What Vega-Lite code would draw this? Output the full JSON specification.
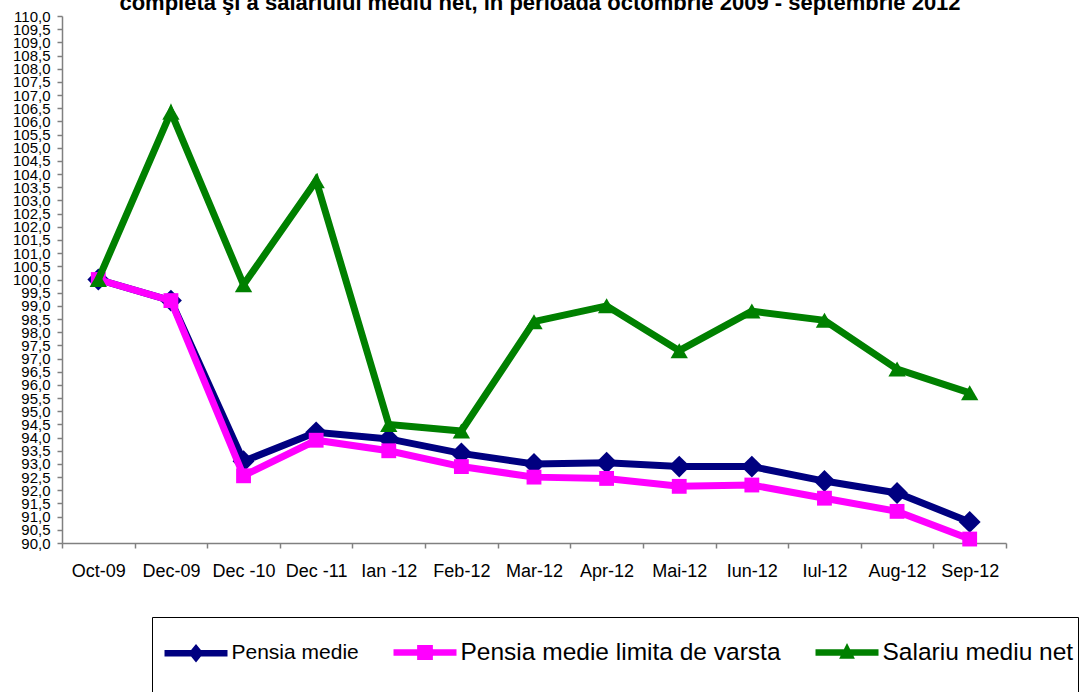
{
  "$schema": "https://vega.github.io/schema/vega-lite/v6.json",
  "width": 944,
  "height": 527,
  "autosize": {"type": "none"},
  "padding": {"left": 62, "top": 16, "right": 76, "bottom": 149},
  "background": "white",
  "config": {"view": {"stroke": null}, "font": "Liberation Sans"},
  "title": {
    "text": "completă şi a salariului mediu net, în perioada octombrie 2009 - septembrie 2012",
    "font": "Liberation Sans",
    "fontSize": 22,
    "fontWeight": "bold",
    "color": "black",
    "anchor": "middle",
    "offset": 2,
    "dy": 7.5,
    "dx": 6
  },
  "data": {
    "values": [
      {"d": "Oct-09", "s": "Pensia medie", "v": 100.0},
      {"d": "Dec-09", "s": "Pensia medie", "v": 99.2},
      {"d": "Dec -10", "s": "Pensia medie", "v": 93.1},
      {"d": "Dec -11", "s": "Pensia medie", "v": 94.2},
      {"d": "Ian -12", "s": "Pensia medie", "v": 93.95},
      {"d": "Feb-12", "s": "Pensia medie", "v": 93.4},
      {"d": "Mar-12", "s": "Pensia medie", "v": 93.0},
      {"d": "Apr-12", "s": "Pensia medie", "v": 93.05},
      {"d": "Mai-12", "s": "Pensia medie", "v": 92.9},
      {"d": "Iun-12", "s": "Pensia medie", "v": 92.9},
      {"d": "Iul-12", "s": "Pensia medie", "v": 92.35},
      {"d": "Aug-12", "s": "Pensia medie", "v": 91.9},
      {"d": "Sep-12", "s": "Pensia medie", "v": 90.8},
      {"d": "Oct-09", "s": "Pensia medie limita de varsta", "v": 100.0},
      {"d": "Dec-09", "s": "Pensia medie limita de varsta", "v": 99.2},
      {"d": "Dec -10", "s": "Pensia medie limita de varsta", "v": 92.55},
      {"d": "Dec -11", "s": "Pensia medie limita de varsta", "v": 93.9},
      {"d": "Ian -12", "s": "Pensia medie limita de varsta", "v": 93.5},
      {"d": "Feb-12", "s": "Pensia medie limita de varsta", "v": 92.9},
      {"d": "Mar-12", "s": "Pensia medie limita de varsta", "v": 92.5},
      {"d": "Apr-12", "s": "Pensia medie limita de varsta", "v": 92.45},
      {"d": "Mai-12", "s": "Pensia medie limita de varsta", "v": 92.15},
      {"d": "Iun-12", "s": "Pensia medie limita de varsta", "v": 92.2},
      {"d": "Iul-12", "s": "Pensia medie limita de varsta", "v": 91.7},
      {"d": "Aug-12", "s": "Pensia medie limita de varsta", "v": 91.2},
      {"d": "Sep-12", "s": "Pensia medie limita de varsta", "v": 90.15},
      {"d": "Oct-09", "s": "Salariu mediu net", "v": 100.0},
      {"d": "Dec-09", "s": "Salariu mediu net", "v": 106.35},
      {"d": "Dec -10", "s": "Salariu mediu net", "v": 99.8},
      {"d": "Dec -11", "s": "Salariu mediu net", "v": 103.75},
      {"d": "Ian -12", "s": "Salariu mediu net", "v": 94.5},
      {"d": "Feb-12", "s": "Salariu mediu net", "v": 94.25},
      {"d": "Mar-12", "s": "Salariu mediu net", "v": 98.4},
      {"d": "Apr-12", "s": "Salariu mediu net", "v": 99.0},
      {"d": "Mai-12", "s": "Salariu mediu net", "v": 97.3},
      {"d": "Iun-12", "s": "Salariu mediu net", "v": 98.8},
      {"d": "Iul-12", "s": "Salariu mediu net", "v": 98.45},
      {"d": "Aug-12", "s": "Salariu mediu net", "v": 96.6},
      {"d": "Sep-12", "s": "Salariu mediu net", "v": 95.7}
    ]
  },
  "encoding": {
    "x": {
      "field": "d",
      "type": "nominal",
      "sort": null,
      "title": null,
      "scale": {"type": "band", "paddingInner": 0, "paddingOuter": 0},
      "axis": {
        "labelAngle": 0,
        "labelFont": "Liberation Sans",
        "labelFontSize": 18,
        "labelColor": "black",
        "labelPadding": 14,
        "tickBand": "extent",
        "tickSize": 5,
        "tickColor": "#808080",
        "domainColor": "#808080",
        "domainWidth": 1.5,
        "tickWidth": 1.5,
        "grid": false
      }
    },
    "y": {
      "field": "v",
      "type": "quantitative",
      "title": null,
      "scale": {"domain": [90, 110], "nice": false, "zero": false},
      "axis": {
        "tickCount": 40,
        "labelExpr": "replace(format(datum.value, '.1f'), '.', ',')",
        "labelFont": "Liberation Sans",
        "labelFontSize": 15,
        "labelColor": "black",
        "labelPadding": 7,
        "labelOverlap": false,
        "labelFlush": false,
        "labelBaseline": "middle",
        "tickSize": 5,
        "tickColor": "#808080",
        "domainColor": "#808080",
        "domainWidth": 1.5,
        "tickWidth": 1.5,
        "grid": false
      }
    },
    "color": {
      "field": "s",
      "type": "nominal",
      "scale": {
        "domain": ["Pensia medie", "Pensia medie limita de varsta", "Salariu mediu net"],
        "range": ["#000080", "#FF00FF", "#008000"]
      },
      "legend": {
        "orient": "none",
        "legendX": 90,
        "legendY": 601,
        "direction": "horizontal",
        "title": " ",
        "titleOrient": "bottom",
        "titleFontSize": 20,
        "titlePadding": 10,
        "padding": 4,
        "strokeColor": "black",
        "fillColor": "white",
        "symbolSize": 3969,
        "labelOffset": 12.5,
        "columnPadding": 26,
        "labelFont": "Liberation Sans",
        "labelColor": "black",
        "labelFontSize": 24,
        "labelLimit": 1000,
        "encode": {
          "symbols": {
            "update": {
              "shape": {"signal": "datum.value === 'Pensia medie' ? 'M-0.73,-0.105 L1.27,-0.105 L1.27,0.105 L-0.73,0.105 Z M0.03,0 L0.27,-0.29 L0.51,0 L0.27,0.29 Z' : datum.value === 'Salariu mediu net' ? 'M-0.73,-0.105 L1.27,-0.105 L1.27,0.105 L-0.73,0.105 Z M0.02,0.2 L0.27,-0.3 L0.52,0.2 Z' : 'M-0.73,-0.105 L1.27,-0.105 L1.27,0.105 L-0.73,0.105 Z M0.02,-0.24 L0.52,-0.24 L0.52,0.24 L0.02,0.24 Z'"},
              "fill": {"signal": "scale('color', datum.value)"},
              "stroke": {"value": "transparent"},
              "strokeWidth": {"value": 0},
              "opacity": {"value": 1},
              "size": {"value": 3969}
            }
          },
          "labels": {
            "update": {
              "fontSize": {"signal": "datum.value === 'Pensia medie' ? 21 : 24.5"}
            }
          }
        }
      }
    }
  },
  "layer": [
    {
      "transform": [{"filter": "datum.s === 'Pensia medie'"}],
      "mark": {"type": "line", "strokeWidth": 7, "strokeJoin": "miter", "point": {"shape": "diamond", "filled": true, "size": 480, "opacity": 1}}
    },
    {
      "transform": [{"filter": "datum.s === 'Pensia medie limita de varsta'"}],
      "mark": {"type": "line", "strokeWidth": 7, "strokeJoin": "miter", "point": {"shape": "square", "filled": true, "size": 220, "opacity": 1}}
    },
    {
      "transform": [{"filter": "datum.s === 'Salariu mediu net'"}],
      "mark": {"type": "line", "strokeWidth": 7, "strokeJoin": "miter", "point": {"shape": "triangle-up", "filled": true, "size": 300, "opacity": 1}}
    }
  ]
}
